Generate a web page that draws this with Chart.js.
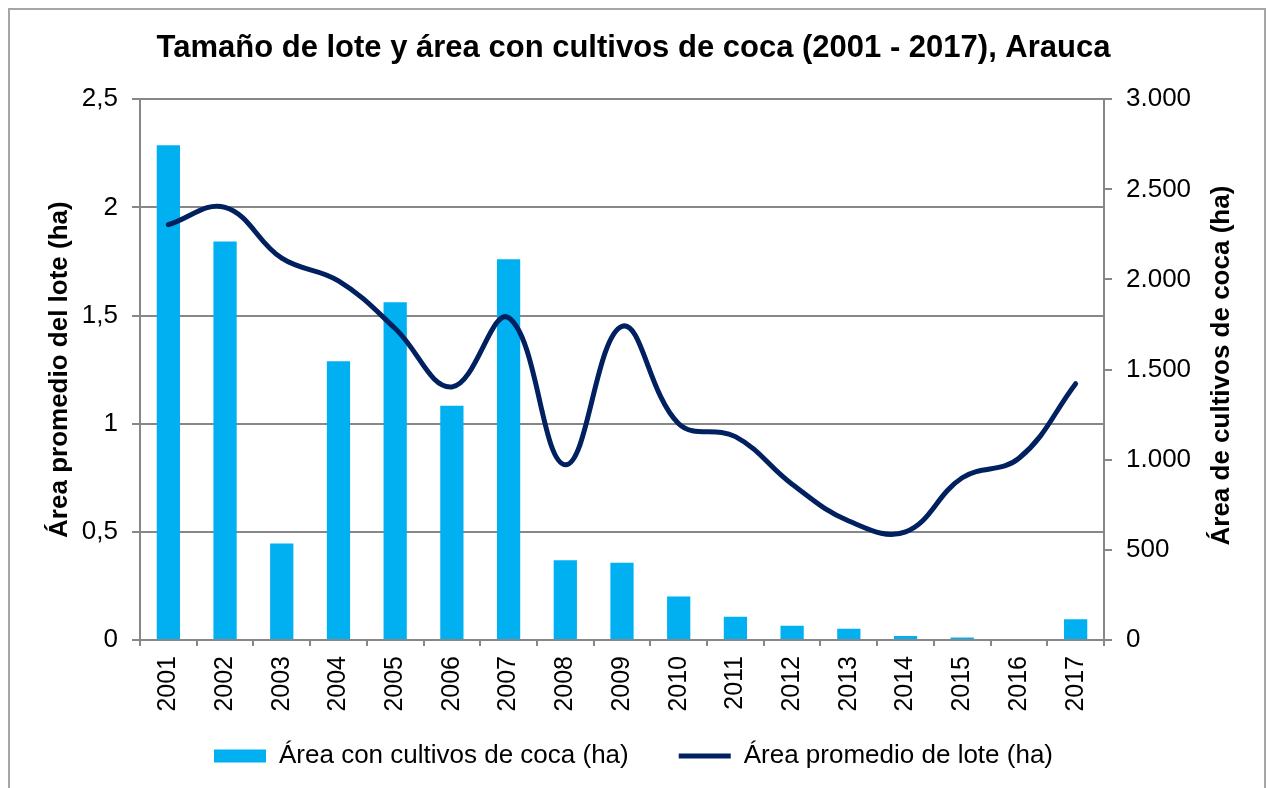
<!DOCTYPE html>
<html>
<head>
<meta charset="utf-8">
<title>Tamaño de lote y área con cultivos de coca (2001 - 2017), Arauca</title>
<script src="https://cdn.jsdelivr.net/npm/chart.js@4.4.1/dist/chart.umd.min.js"></script>
<style>
  html, body { margin: 0; padding: 0; background: #fff; }
  canvas { display: block; }
</style>
</head>
<body>
<canvas id="grafico" width="1267" height="788"></canvas>
<script>
// datos
const anos = ["2001", "2002", "2003", "2004", "2005", "2006", "2007", "2008", "2009",
  "2010", "2011", "2012", "2013", "2014", "2015", "2016", "2017"];
// area con cultivos de coca (ha) - eje derecho
const areaCoca = [2745, 2210, 535, 1547, 1874, 1299, 2112, 442, 428, 242, 129, 79, 63, 22, 14, 0, 115];
// area promedio de lote (ha) - eje izquierdo
const areaLote = [1.92, 2.0, 1.765, 1.66, 1.44, 1.17, 1.49, 0.81, 1.45, 1.0, 0.94, 0.72, 0.55, 0.5, 0.75, 0.84, 1.185];

const ticksIzq = ["0", "0,5", "1", "1,5", "2", "2,5"];
const ticksDer = ["0", "500", "1.000", "1.500", "2.000", "2.500", "3.000"];

const titulo = "Tamaño de lote y área con cultivos de coca (2001 - 2017), Arauca";
const tituloIzq = "Área promedio del lote (ha)";
const tituloDer = "Área de cultivos de coca (ha)";

const fuente = '"Liberation Sans", Arial, sans-serif';
const gris = "#878787";

// marco gris, leyenda mas abajo y titulo del eje derecho (de abajo hacia arriba)
const marco = {
  id: "marco",
  afterLayout(chart) {
    const lg = chart.legend;
    lg.top = 693;
    lg.bottom = chart.height;
    lg.height = lg.bottom - lg.top;
  },
  beforeDraw(chart) {
    const ctx = chart.ctx;
    ctx.save();
    ctx.fillStyle = "#fff";
    ctx.fillRect(0, 0, chart.width, chart.height);
    ctx.restore();
  },
  afterDraw(chart) {
    const ctx = chart.ctx;
    ctx.save();
    ctx.strokeStyle = "#a6a6a6";
    ctx.lineWidth = 2;
    ctx.beginPath();
    ctx.moveTo(9, 800);
    ctx.lineTo(9, 9);
    ctx.lineTo(1265, 9);
    ctx.lineTo(1265, 800);
    ctx.stroke();

    const area = chart.chartArea;
    ctx.translate(1222, (area.top + area.bottom) / 2 - 4);
    ctx.rotate(-Math.PI / 2);
    ctx.font = "bold 26px " + fuente;
    ctx.fillStyle = "#000";
    ctx.textAlign = "center";
    ctx.textBaseline = "middle";
    ctx.fillText(tituloDer, 0, 0);
    ctx.restore();
  }
};

const ctx = document.getElementById("grafico").getContext("2d");
const chart = new Chart(ctx, {
  type: "bar",
  data: {
    labels: anos,
    datasets: [
      {
        type: "bar",
        label: "Área con cultivos de coca (ha)",
        data: areaCoca,
        yAxisID: "y1",
        backgroundColor: "#00B0F0",
        borderWidth: 0,
        barPercentage: 0.41,
        categoryPercentage: 1,
        pointStyle: "rect",
        order: 2
      },
      {
        type: "line",
        label: "Área promedio de lote (ha)",
        data: areaLote,
        yAxisID: "y",
        borderColor: "#002060",
        backgroundColor: "#002060",
        borderWidth: 5,
        borderCapStyle: "round",
        tension: 0.4,
        pointRadius: 0,
        pointStyle: "line",
        fill: false,
        order: 1
      }
    ]
  },
  options: {
    responsive: false,
    animation: false,
    layout: { padding: { left: 0, right: 0, top: 0, bottom: 8 } },
    plugins: {
      title: {
        display: true,
        text: titulo,
        color: "#000",
        font: { family: fuente, size: 31, weight: "bold" },
        padding: { top: 30, bottom: 32 }
      },
      legend: {
        position: "bottom",
        reverse: true,
        maxHeight: 40,
        labels: {
          usePointStyle: true,
          pointStyleWidth: 52,
          boxHeight: 13,
          padding: 50,
          color: "#000",
          font: { family: fuente, size: 26 }
        }
      },
      tooltip: { enabled: false }
    },
    scales: {
      x: {
        offset: true,
        grid: { drawOnChartArea: false, offset: true, tickLength: 6, color: gris, lineWidth: 2 },
        border: { color: gris, width: 2 },
        ticks: {
          color: "#000",
          font: { family: fuente, size: 25 },
          minRotation: 90,
          maxRotation: 90,
          autoSkip: false,
          padding: 10
        },
        afterFit(scale) { scale.height = 100; }
      },
      y: {
        position: "left",
        min: 0,
        max: 2.5,
        ticks: {
          stepSize: 0.5,
          color: "#000",
          font: { family: fuente, size: 26 },
          padding: 14,
          callback: (v, i) => ticksIzq[i]
        },
        grid: { color: gris, lineWidth: 2, tickLength: 8 },
        border: { color: gris, width: 2 },
        title: {
          display: true,
          text: tituloIzq,
          color: "#000",
          font: { family: fuente, size: 26, weight: "bold" },
          padding: { top: 44, bottom: 0 }
        },
        afterFit(scale) { scale.width = 140; }
      },
      y1: {
        position: "right",
        min: 0,
        max: 3000,
        ticks: {
          stepSize: 500,
          color: "#000",
          font: { family: fuente, size: 26 },
          padding: 14,
          callback: (v, i) => ticksDer[i]
        },
        grid: { drawOnChartArea: false, color: gris, lineWidth: 2, tickLength: 8 },
        border: { color: gris, width: 2 },
        afterFit(scale) { scale.width = 163; }
      }
    }
  },
  plugins: [marco]
});
</script>
</body>
</html>
